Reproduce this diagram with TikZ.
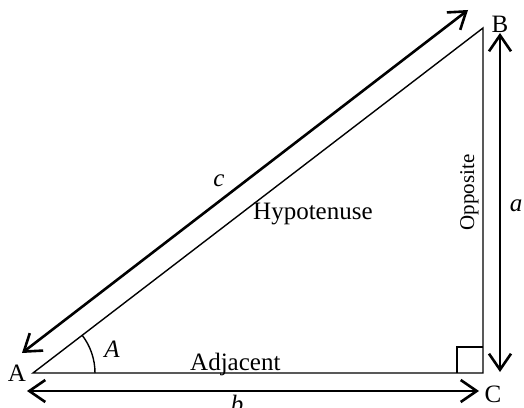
\documentclass[tikz,border=0pt]{standalone}
\usepackage{fontspec}
\setmainfont{Liberation Serif}
\usetikzlibrary{arrows.meta}
\begin{document}
\begin{tikzpicture}[x=1pt,y=1pt,
  tri/.style={line width=1.4pt},
  dim/.style={line width=2.6pt,{Straight Barb[length=16pt,width=22pt]}-{Straight Barb[length=16pt,width=22pt]}},
  lbl/.style={inner sep=0pt,anchor=base,font=\fontsize{25}{30}\selectfont},
  slbl/.style={inner sep=0pt,anchor=base,font=\fontsize{21}{25}\selectfont}]
\useasboundingbox (0,0) rectangle (524,407);
\coordinate (A) at (33,34);
\coordinate (C) at (483,34);
\coordinate (B) at (483,379);
\draw[tri] (A) -- (C) -- (B) -- cycle;
\draw[tri] (457,34) coordinate (s1) -- (457,60) coordinate (s2) -- (483,60) coordinate (s3);
\draw[tri] (A) ++(0:62) coordinate (arcS) arc[start angle=0,end angle=37.48,radius=62];
% dimension arrows
\coordinate (b1) at (27,16);
\coordinate (b2) at (479,16);
\draw[dim] (b1) -- (b2);
\coordinate (a1) at (500,374);
\coordinate (a2) at (500,35);
\draw[dim] (a1) -- (a2);
\coordinate (c1) at (22,54);
\coordinate (c2) at (468,397);
\draw[dim] (c1) -- (c2);
% labels
\node[lbl] (lA) at (17,26) {A};
\node[lbl] (lB) at (500,374) {B};
\node[lbl] (lC) at (493,5) {C};
\node[lbl] (lc) at (219,220) {\itshape c};
\node[lbl] (la) at (516,195) {\itshape a};
\node[lbl] (lb) at (237,-5) {\itshape b};
\node[lbl] (lang) at (112,50) {\itshape A};
\node[lbl,anchor=base west] (hyp) at (253,187) {Hypotenuse};
\node[lbl,anchor=base west] (adj) at (190,37) {Adjacent};
\node[slbl,rotate=90] (opp) at (474,214.5) {Opposite};
\end{tikzpicture}
\end{document}
